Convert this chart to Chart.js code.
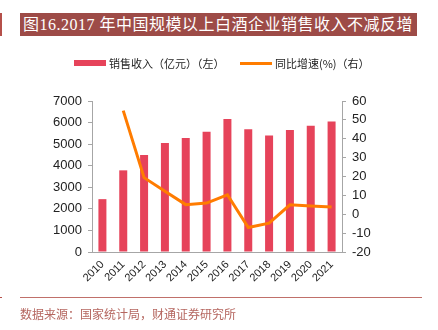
<!DOCTYPE html>
<html>
<head>
<meta charset="utf-8">
<script src="https://cdn.jsdelivr.net/npm/chart.js@4"></script>
<style>
  body { margin: 0; background: #fff; }
  #wrap { position: relative; width: 438px; height: 330px; overflow: hidden; }
  #myChart { position: absolute; left: 0; top: 0; }
  .title {
    position: absolute; left: 20px; top: 13px; width: 397px; height: 23px;
    background: #9d4b47; color: #fff;
    font: 16px "Liberation Serif", "Noto Sans CJK SC", serif;
    letter-spacing: 0.5px;
    line-height: 23px; padding-left: 3px; box-sizing: border-box; white-space: nowrap;
  }
  .mark { position: absolute; left: 0; width: 2px; background: #b5504a; }
  .legend {
    position: absolute; top: 55px; left: 0; width: 438px; height: 16px;
    font: 11px "Noto Sans CJK SC", sans-serif; color: #222;
  }
  .legend span { position: absolute; top: 0; line-height: 16px; white-space: nowrap; }
  .legend i { position: absolute; display: block; }
  .rule { position: absolute; left: 20px; top: 297px; width: 402px; height: 1px; background: #c0706a; }
  .source {
    position: absolute; left: 20px; top: 305px;
    font: 12px "Noto Sans CJK SC", sans-serif; color: #b5665f; white-space: nowrap;
  }
</style>
</head>
<body>
<div id="wrap">
  <canvas id="myChart" width="438" height="330"></canvas>
  <div class="mark" style="top:13px;height:23px"></div>
  <div class="title">图16.2017 年中国规模以上白酒企业销售收入不减反增</div>
  <div class="legend">
    <i style="left:74px;top:5px;width:32px;height:6px;background:#e6435a"></i>
    <span style="left:109px">销售收入（亿元）（左）</span>
    <i style="left:240px;top:7px;width:32px;height:3px;background:#ff7c00"></i>
    <span style="left:275px">同比增速(%)（右）</span>
  </div>
  <div class="mark" style="top:297px;height:1px"></div>
  <div class="rule"></div>
  <div class="source">数据来源：国家统计局，财通证券研究所</div>
</div>
<script>
let years = ['2010', '2011', '2012', '2013', '2014', '2015', '2016', '2017', '2018', '2019', '2020', '2021'];
let revenue = [2450, 3785, 4500, 5055, 5290, 5580, 6160, 5690, 5400, 5660, 5850, 6050];
let growth = [null, 54.9, 19.4, 12.2, 5.1, 5.9, 10.3, -7.0, -4.7, 5.0, 4.4, 3.8];

const tickFont = { family: '"Liberation Sans", Arial, sans-serif', size: 13 };
const axisGray = '#a6a6a6';

let ctx = document.getElementById('myChart').getContext('2d');
let myChart = new Chart(ctx, {
    data: {
        labels: years,
        datasets: [
            {
                type: 'line',
                label: '同比增速(%)（右）',
                data: growth,
                yAxisID: 'y1',
                borderColor: '#ff7c00',
                borderWidth: 3,
                pointRadius: 0,
                tension: 0,
                order: 1
            },
            {
                type: 'bar',
                label: '销售收入（亿元）（左）',
                data: revenue,
                yAxisID: 'y',
                backgroundColor: '#e6435a',
                barPercentage: 0.48,
                categoryPercentage: 0.8,
                order: 2
            }
        ]
    },
    options: {
        responsive: false,
        animation: false,
        layout: { padding: { top: 101, left: 0, right: 0, bottom: 0 } },
        plugins: {
            legend: { display: false },
            tooltip: { enabled: false }
        },
        scales: {
            x: {
                grid: { display: false, drawTicks: false },
                border: { display: true, color: axisGray },
                ticks: {
                    color: '#222',
                    font: { family: '"Liberation Sans", Arial, sans-serif', size: 11 },
                    autoSkip: false,
                    minRotation: 45,
                    maxRotation: 45,
                    padding: 6
                },
                afterFit: s => { s.height = 78; }
            },
            y: {
                position: 'left',
                min: 0,
                max: 7000,
                grid: { drawOnChartArea: false, drawTicks: true, tickLength: 4, color: axisGray },
                border: { display: true, color: axisGray },
                ticks: { stepSize: 1000, color: '#222', font: tickFont, padding: 6, callback: v => String(v) },
                afterFit: s => { s.width = 92; }
            },
            y1: {
                position: 'right',
                min: -20,
                max: 60,
                grid: { drawOnChartArea: false, drawTicks: true, tickLength: 4, color: axisGray },
                border: { display: true, color: axisGray },
                ticks: { stepSize: 10, color: '#222', font: tickFont, padding: 6, callback: v => String(v) },
                afterFit: s => { s.width = 96; }
            }
        }
    }
});
</script>
</body>
</html>
